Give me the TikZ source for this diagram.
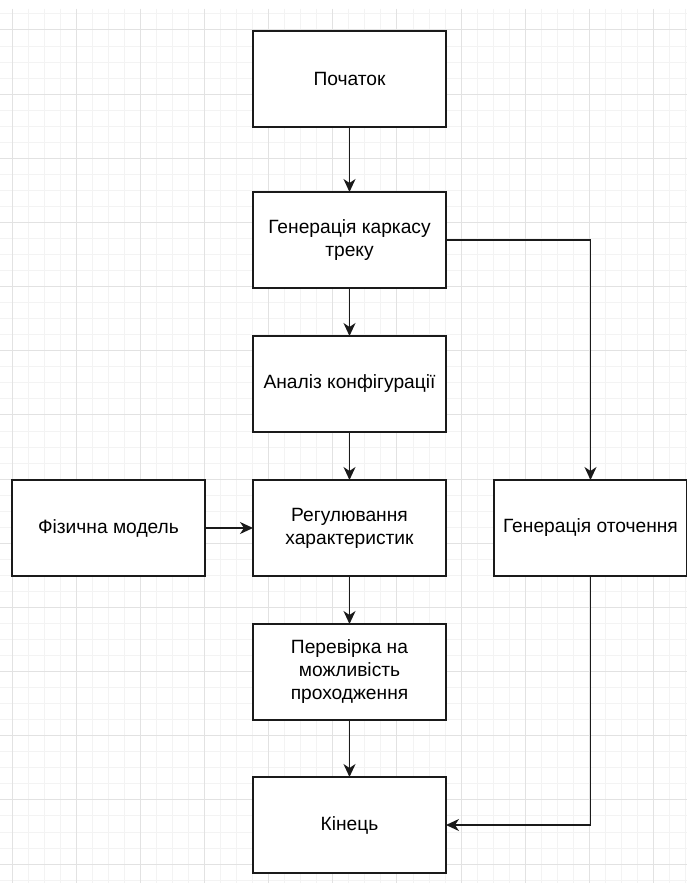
\documentclass[tikz,border=0pt]{standalone}
\usepackage{fontspec}
\setmainfont{Liberation Sans}
\usepackage{xcolor}
\usepackage{tikz}
\usetikzlibrary{arrows.meta,positioning}
\definecolor{minorgrid}{HTML}{F3F3F3}
\definecolor{majorgrid}{HTML}{E2E2E2}
\definecolor{ink}{HTML}{1A1A1A}

\begin{document}
\begin{tikzpicture}[
 x=1pt,y=-1pt,
 node distance=48pt,
 stage/.style={draw=ink,line width=1.8pt,fill=white,minimum width=193pt,minimum height=96pt,outer sep=0pt,inner sep=2pt,align=center,font=\fontsize{19.2}{23}\selectfont},
 flow/.style={draw=ink,line width=1.8pt,-{Stealth[length=13pt,width=12pt,inset=4pt]}},
]
\useasboundingbox (0,0) rectangle (687,883);
\fill[white] (0,0) rectangle (687,883);
\foreach \k in {0,...,42} \draw[minorgrid,line width=1pt] ({12+16.04*\k},9) -- ({12+16.04*\k},883);
\foreach \k in {0,...,54} \draw[minorgrid,line width=1pt] (0,{13.96+16.04*\k}) -- (687,{13.96+16.04*\k});
\foreach \k in {0,...,10} \draw[majorgrid,line width=1pt] ({12+64.16*\k},9) -- ({12+64.16*\k},883);
\foreach \k in {0,...,13} \draw[majorgrid,line width=1pt] (0,{30+64.16*\k}) -- (687,{30+64.16*\k});
\node[stage] (start) at (349.5,79) {Початок};
\node[stage,below=65pt of start] (frame) {Генерація каркасу\\треку};
\node[stage,below=of frame] (analysis) {Аналіз конфігурації};
\node[stage,below=of analysis] (tuning) {Регулювання\\характеристик};
\node[stage,below=of tuning] (check) {Перевірка на\\можливість\\проходження};
\node[stage,below=57pt of check] (finish) {Кінець};
\node[stage,left=48pt of tuning] (physics) {Фізична модель};
\node[stage,right=48pt of tuning] (scenery) {Генерація оточення};
\draw[flow] (start) -- (frame);
\draw[flow] (frame) -- (analysis);
\draw[flow] (analysis) -- (tuning);
\draw[flow] (tuning) -- (check);
\draw[flow] (check) -- (finish);
\draw[flow] (physics) -- (tuning);
\draw[flow] (frame.east) -| (scenery.north);
\draw[flow] (scenery.south) |- (finish.east);
\end{tikzpicture}
\end{document}
